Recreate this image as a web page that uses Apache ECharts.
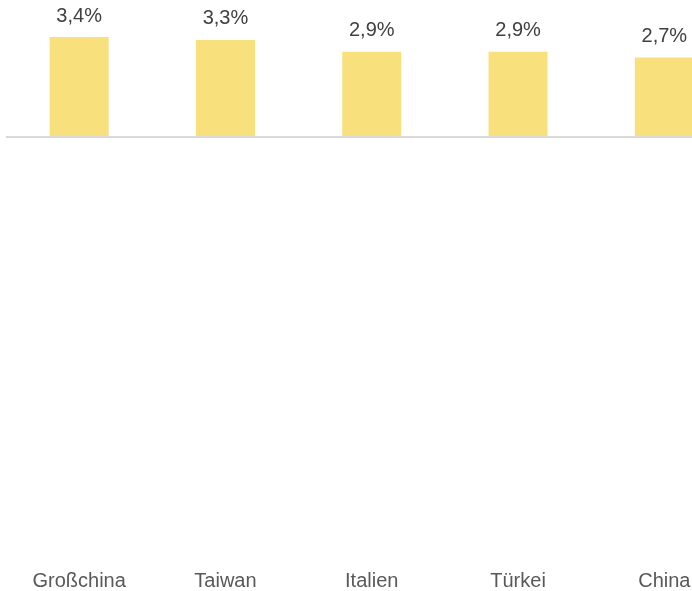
<!DOCTYPE html>
<html>
<head>
<meta charset="utf-8">
<script src="https://cdn.jsdelivr.net/npm/echarts@6/dist/echarts.min.js"></script>
<style>
  html, body { margin: 0; padding: 0; background: #fff; }
  #chart { width: 692px; height: 591px; }
</style>
</head>
<body>
<div id="chart"></div>
<script>
// Anteile je Markt, in Prozent
var categories = ['Großchina', 'Taiwan', 'Italien', 'Türkei', 'China'];
var values = [3.4, 3.3, 2.9, 2.9, 2.7];

var chart = echarts.init(document.getElementById('chart'));

var option = {
    backgroundColor: '#fff',
    animation: false,
    grid: {
        left: 6,
        right: -45.5,
        top: 0,
        bottom: 31,
        containLabel: false,
        outerBoundsMode: 'none'
    },
    xAxis: {
        type: 'category',
        data: categories,
        axisLine: { show: false },
        axisTick: { show: false },
        axisLabel: {
            margin: 11,
            color: '#595959',
            fontSize: 20,
            fontFamily: 'Liberation Sans, Arial, sans-serif'
        }
    },
    yAxis: {
        type: 'value',
        min: -14.39,
        max: 4.66,
        show: false,
        splitLine: { show: false }
    },
    series: [{
        type: 'bar',
        data: values,
        barWidth: 59,
        itemStyle: { color: '#f8e17c' },
        label: {
            show: true,
            position: 'top',
            distance: 11,
            color: '#404040',
            fontSize: 20,
            fontFamily: 'Liberation Sans, Arial, sans-serif',
            formatter: function (p) {
                return p.value.toFixed(1).replace('.', ',') + '%';
            }
        },
        markLine: {
            silent: true,
            symbol: 'none',
            label: { show: false },
            lineStyle: { color: '#d9d9d9', width: 2, type: 'solid' },
            data: [{ yAxis: 0 }]
        }
    }]
};

chart.setOption(option);
</script>
</body>
</html>
